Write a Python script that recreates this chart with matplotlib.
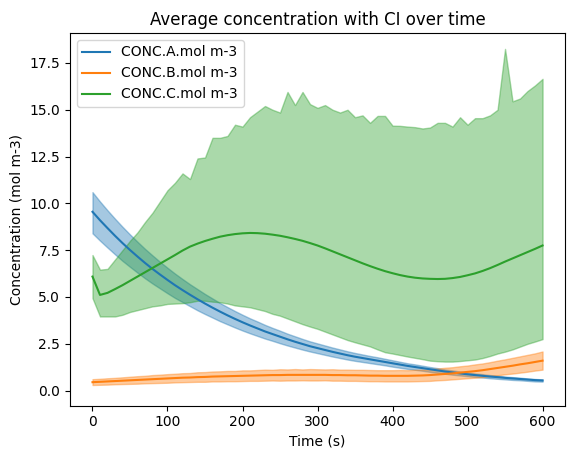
import numpy as np
import matplotlib.pyplot as plt

plt.switch_backend('agg')

# time axis (s)
time_s = np.arange(0, 601, 10)

# CONC.A - mean and CI bounds
conc_a = [9.55, 9.10, 8.68, 8.27, 7.88, 7.51, 7.16, 6.82, 6.50, 6.20,
          5.91, 5.63, 5.37, 5.12, 4.88, 4.65, 4.43, 4.22, 4.02, 3.83,
          3.65, 3.48, 3.32, 3.16, 3.02, 2.88, 2.74, 2.61, 2.49, 2.37,
          2.27, 2.17, 2.07, 1.98, 1.89, 1.81, 1.74, 1.67, 1.60, 1.53,
          1.46, 1.39, 1.32, 1.26, 1.20, 1.14, 1.08, 1.02, 0.97, 0.92,
          0.87, 0.83, 0.79, 0.75, 0.72, 0.68, 0.65, 0.62, 0.59, 0.56, 0.54]
conc_a_hi = [10.6, 10.1, 9.63, 9.18, 8.75, 8.34, 7.95, 7.57, 7.22, 6.88,
             6.56, 6.25, 5.96, 5.68, 5.42, 5.16, 4.92, 4.68, 4.46, 4.25,
             4.05, 3.86, 3.69, 3.51, 3.35, 3.20, 3.04, 2.90, 2.76, 2.63,
             2.52, 2.41, 2.30, 2.20, 2.10, 2.01, 1.93, 1.85, 1.78, 1.70,
             1.62, 1.54, 1.46, 1.40, 1.33, 1.26, 1.20, 1.13, 1.08, 1.02,
             0.96, 0.92, 0.88, 0.83, 0.80, 0.75, 0.72, 0.69, 0.65, 0.62, 0.60]
conc_a_lo = [8.40, 8.01, 7.64, 7.28, 6.93, 6.61, 6.30, 6.00, 5.72, 5.46,
             5.20, 4.95, 4.73, 4.51, 4.29, 4.09, 3.90, 3.71, 3.54, 3.37,
             3.21, 3.06, 2.92, 2.78, 2.66, 2.53, 2.41, 2.30, 2.19, 2.09,
             2.00, 1.91, 1.82, 1.74, 1.66, 1.59, 1.53, 1.47, 1.41, 1.35,
             1.28, 1.22, 1.16, 1.11, 1.06, 1.00, 0.95, 0.90, 0.85, 0.81,
             0.77, 0.73, 0.70, 0.66, 0.63, 0.60, 0.57, 0.55, 0.52, 0.49, 0.48]

# CONC.B - mean and CI bounds
conc_b = [0.45, 0.47, 0.49, 0.51, 0.53, 0.55, 0.57, 0.59, 0.61, 0.63,
          0.65, 0.67, 0.69, 0.70, 0.72, 0.73, 0.75, 0.76, 0.77, 0.78,
          0.79, 0.80, 0.81, 0.82, 0.83, 0.83, 0.84, 0.84, 0.84, 0.84,
          0.84, 0.84, 0.83, 0.83, 0.82, 0.82, 0.81, 0.80, 0.80, 0.79,
          0.79, 0.79, 0.79, 0.80, 0.81, 0.83, 0.86, 0.89, 0.92, 0.96,
          1.00, 1.04, 1.09, 1.15, 1.21, 1.27, 1.33, 1.40, 1.46, 1.53, 1.60]
conc_b_hi = [0.61, 0.63, 0.66, 0.68, 0.71, 0.74, 0.77, 0.79, 0.83, 0.85,
             0.88, 0.90, 0.93, 0.94, 0.98, 0.99, 1.02, 1.03, 1.05, 1.05,
             1.08, 1.08, 1.10, 1.12, 1.11, 1.14, 1.13, 1.15, 1.13, 1.15,
             1.14, 1.13, 1.14, 1.12, 1.12, 1.11, 1.11, 1.10, 1.09, 1.09,
             1.09, 1.10, 1.09, 1.11, 1.12, 1.15, 1.18, 1.22, 1.25, 1.30,
             1.34, 1.40, 1.45, 1.52, 1.60, 1.67, 1.75, 1.83, 1.91, 1.99, 2.09]
conc_b_lo = [0.30, 0.31, 0.32, 0.34, 0.35, 0.36, 0.37, 0.39, 0.40, 0.41,
             0.42, 0.44, 0.45, 0.46, 0.47, 0.47, 0.49, 0.49, 0.50, 0.50,
             0.51, 0.52, 0.52, 0.53, 0.54, 0.53, 0.54, 0.54, 0.55, 0.54,
             0.54, 0.55, 0.53, 0.53, 0.52, 0.52, 0.51, 0.50, 0.50, 0.49,
             0.49, 0.49, 0.49, 0.50, 0.51, 0.52, 0.55, 0.57, 0.60, 0.63,
             0.66, 0.69, 0.72, 0.77, 0.82, 0.87, 0.91, 0.96, 1.01, 1.07, 1.12]

# CONC.C - mean and CI bounds
conc_c = [6.09, 5.11, 5.22, 5.42, 5.63, 5.86, 6.09, 6.32, 6.55, 6.78,
          7.01, 7.24, 7.48, 7.69, 7.85, 7.99, 8.11, 8.22, 8.30, 8.36,
          8.40, 8.42, 8.41, 8.38, 8.33, 8.27, 8.19, 8.10, 8.00, 7.88,
          7.75, 7.60, 7.44, 7.28, 7.12, 6.96, 6.80, 6.65, 6.51, 6.38,
          6.27, 6.17, 6.09, 6.03, 5.99, 5.97, 5.96, 5.97, 6.01, 6.07,
          6.16, 6.26, 6.39, 6.54, 6.71, 6.89, 7.06, 7.23, 7.40, 7.57, 7.75]
conc_c_hi = [7.24, 6.46, 6.50, 7.00, 7.50, 8.00, 8.45, 9.00, 9.50, 10.1,
             10.7, 11.1, 11.6, 11.3, 12.4, 12.45, 13.5, 13.5, 13.6, 14.2,
             14.1, 14.6, 14.9, 15.2, 15.0, 14.85, 15.95, 15.25, 15.95, 15.3,
             15.1, 15.25, 15.0, 14.85, 15.0, 14.6, 14.7, 14.3, 14.67, 14.67,
             14.15, 14.14, 14.1, 14.07, 14.0, 14.05, 14.3, 14.3, 14.1, 14.6,
             14.2, 14.55, 14.55, 14.7, 15.0, 18.25, 15.45, 15.6, 16.0, 16.3, 16.65]
conc_c_lo = [4.94, 3.96, 3.96, 3.96, 4.05, 4.20, 4.30, 4.40, 4.50, 4.55,
             4.63, 4.65, 4.67, 4.72, 4.80, 4.80, 4.75, 4.72, 4.65, 4.55,
             4.50, 4.45, 4.35, 4.25, 4.10, 4.00, 3.85, 3.70, 3.55, 3.42,
             3.30, 3.15, 3.00, 2.85, 2.70, 2.58, 2.47, 2.36, 2.20, 2.05,
             1.98, 1.90, 1.82, 1.75, 1.68, 1.60, 1.57, 1.55, 1.55, 1.58,
             1.62, 1.66, 1.74, 1.85, 1.98, 2.08, 2.20, 2.35, 2.50, 2.62, 2.75]

series = [
    ('CONC.A.mol m-3', conc_a, conc_a_lo, conc_a_hi),
    ('CONC.B.mol m-3', conc_b, conc_b_lo, conc_b_hi),
    ('CONC.C.mol m-3', conc_c, conc_c_lo, conc_c_hi),
]

fig = plt.figure(figsize=(5.76, 4.55), dpi=100)
ax = fig.add_axes([0.1215, 0.1086, 0.8595, 0.8189])

for label, mean, lo, hi in series:
    line, = ax.plot(time_s, mean, label=label)
    ax.fill_between(time_s, lo, hi, color=line.get_color(), alpha=0.4)

ax.set_ylim(-0.8, 19.1)
ax.set_title('Average concentration with CI over time')
ax.set_xlabel('Time (s)')
ax.set_ylabel('Concentration (mol m-3)')
ax.legend(loc='upper left')

fig.savefig('out.png', dpi=100)
